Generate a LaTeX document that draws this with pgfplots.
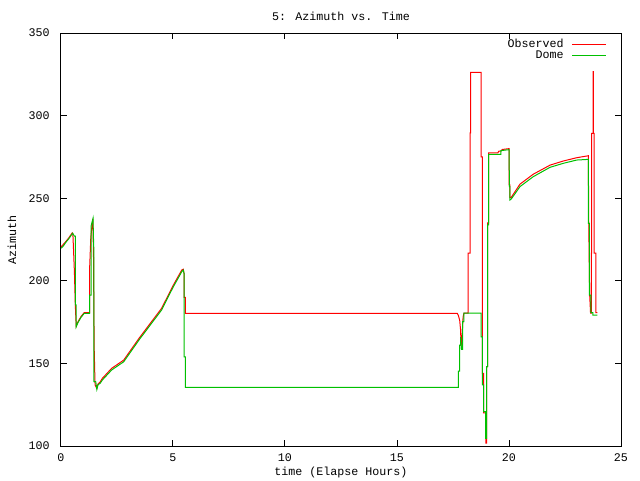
\documentclass[border=0pt]{standalone}
\usepackage{pgfplots}
\pgfplotsset{compat=1.18}
\usepackage{fontspec}
\setmainfont{Liberation Mono}
\definecolor{gpred}{RGB}{255,0,0}
\definecolor{gpgreen}{RGB}{0,192,0}
\begin{document}
\fontsize{8.75pt}{10pt}\selectfont
\begin{tikzpicture}
\begin{axis}[
  at={(0pt,0pt)}, anchor=south west,
  scale only axis, width=420pt, height=309.75pt,
  xmin=0, xmax=25, ymin=100, ymax=350,
  xtick={0,5,10,15,20,25}, ytick={100,150,200,250,300,350},
  tick align=inside, major tick length=4.5pt,
  tick style={black, line width=0.75pt},
  axis line style={line width=0.75pt},
  /pgf/number format/assume math mode=true,
  tick label style={font=\fontsize{8.75pt}{10pt}\selectfont},
  xticklabel style={anchor=center, inner sep=0pt, yshift=-8.5pt},
  yticklabel style={anchor=east, inner sep=0pt, xshift=-8.25pt},
  every axis title shift=0pt,
  title={5: Azimuth vs. Time},
  title style={at={(axis description cs:0.5,1.0412)}, anchor=center, inner sep=0pt},
  xlabel={time (Elapse Hours)},
  xlabel style={at={(axis description cs:0.5,-0.063)}, anchor=center, inner sep=0pt},
  ylabel={Azimuth},
  ylabel style={at={(axis description cs:-0.0875,0.5)}, anchor=center, inner sep=0pt},
  legend style={at={(axis description cs:0.975,0.985)}, anchor=north east,
    draw=none, fill=none, inner sep=0pt, row sep=0pt, column sep=6pt,
    nodes={inner sep=0pt, text height=6pt, text depth=2.25pt},
    font=\fontsize{8.75pt}{10pt}\selectfont},
  legend cell align=right,
  legend plot pos=right,
  legend image code/.code={\draw[#1] (0pt,0pt) -- (25.5pt,0pt);},
]
\addplot[gpred, line width=0.75pt] coordinates {
(0,220.5) (0.1,222) (0.2,223.5) (0.35,226) (0.5,229) (0.53,228.5) (0.55,222)
(0.6,205) (0.64,185) (0.68,172.5) (0.75,175) (0.9,178.5) (1.04,180.8) (1.28,180.8)
(1.28,208) (1.33,226) (1.38,233) (1.42,237.5) (1.45,216) (1.48,160) (1.52,137)
(1.6,134.8) (1.65,137.5) (1.75,138.8) (1.85,141) (2.26,147) (2.8,152) (3.5,165.5)
(4.0,174.5) (4.49,183.3) (5.0,197) (5.39,206.5) (5.46,207) (5.5,204) (5.5,190)
(5.55,190) (5.55,180.3) (17.69,180.3) (17.74,179) (17.8,176) (17.84,170)
(17.86,160.5) (17.9,165) (17.95,178) (17.99,180.5) (18.18,180.5) (18.18,216.8)
(18.26,216.8) (18.26,289.5) (18.29,289.5) (18.29,326.2) (18.76,326.2) (18.76,275)
(18.81,275) (18.81,144) (18.87,144) (18.87,120) (18.97,120) (18.97,101.8)
(19.0,101.8) (19.0,148) (19.05,148) (19.05,235) (19.09,235) (19.09,277.5)
(19.5,277.5) (19.55,278.5) (19.64,278.5) (19.7,279.5) (20.0,280) (20.0,258)
(20.04,258) (20.04,250.5) (20.1,250.5) (20.49,258.5) (21.08,264.5) (21.83,270)
(22.42,272.5) (23.02,274.5) (23.54,275.7) (23.56,236) (23.6,192) (23.64,180.5)
(23.68,180.5) (23.68,216.8) (23.69,216.8) (23.69,289.3) (23.755,289.3)
(23.755,326.6) (23.765,326.6) (23.765,289.3) (23.8,289.3) (23.8,216.8)
(23.88,216.8) (23.88,180.7) (23.94,180.7)
};
\addlegendentry{Observed}
\addplot[gpgreen, line width=0.75pt] coordinates {
(0,219.7) (0.1,221) (0.2,223) (0.35,225.5) (0.52,228.8) (0.6,227) (0.64,227)
(0.64,185.4) (0.68,185.4) (0.68,172.2) (0.75,174.5) (0.9,178) (1.04,180.3)
(1.28,180.3) (1.28,191.4) (1.34,191.4) (1.34,233) (1.43,237.8) (1.45,226)
(1.47,217) (1.47,139) (1.55,139) (1.6,134.3) (1.65,137) (1.75,138) (1.85,140)
(2.26,146) (2.8,151) (3.5,164.5) (4.0,173.5) (4.49,182.3) (5.0,196) (5.39,205.5)
(5.46,206.5) (5.5,204) (5.5,154) (5.55,154) (5.55,135.5) (17.74,135.5)
(17.74,145.3) (17.8,145.3) (17.8,161) (17.84,161) (17.84,166) (17.88,158.5)
(17.93,158.5) (17.93,175.3) (17.99,175.3) (17.99,180.5) (18.75,180.5)
(18.75,166) (18.81,166) (18.81,137) (18.87,137) (18.87,120.8) (18.96,120.8)
(18.96,104.6) (19.0,104.6) (19.0,148) (19.05,148) (19.05,233.8) (19.09,233.8)
(19.09,276.6) (19.64,276.6) (19.64,278.8) (20.0,279.4) (20.02,257) (20.04,257)
(20.04,248.9) (20.1,249.5) (20.49,257) (21.08,263) (21.83,268.7) (22.42,271.1)
(23.02,273.1) (23.54,273.5) (23.54,234.8) (23.59,234.8) (23.59,191.4)
(23.65,191.4) (23.65,180.7) (23.74,180.7) (23.74,179.3) (23.94,179.3)
};
\addlegendentry{Dome}
\end{axis}
\pgfresetboundingbox
\path (-45.75pt,-25.5pt) rectangle (434.25pt,334.5pt);
\end{tikzpicture}
\end{document}
